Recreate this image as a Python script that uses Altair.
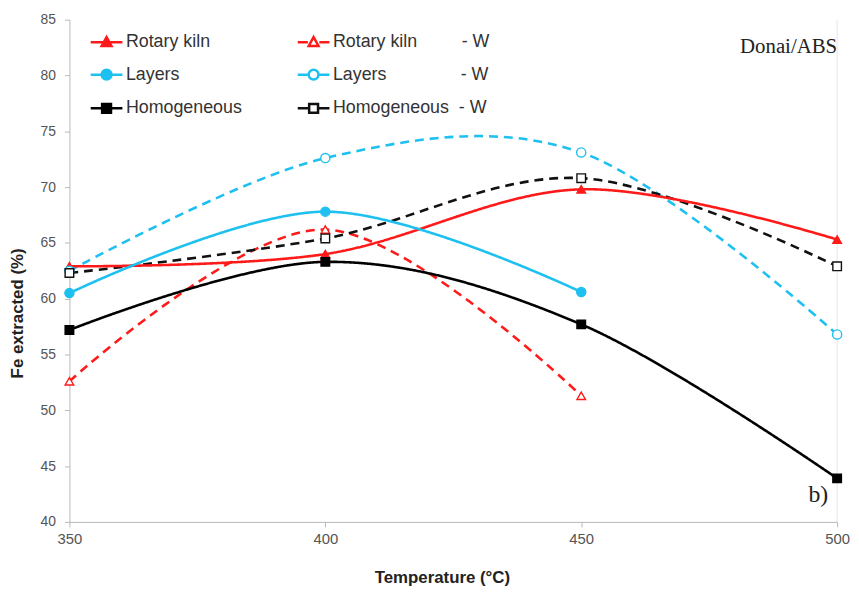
import altair as alt
import pandas as pd

NB = "\u00a0"

temperatures = [350, 400, 450, 500]
series_names = [
    "Rotary kiln",
    "Layers",
    "Homogeneous",
    "Rotary kiln" + NB * 9 + "- W",
    "Layers" + NB * 15 + "- W",
    "Homogeneous" + NB * 2 + "- W",
]
rotary_kiln = [62.9, 64.0, 69.8, 65.3]
layers = [60.5, 67.8, 60.6, None]
homogeneous = [57.2, 63.3, 57.7, 43.9]
rotary_kiln_w = [52.6, 66.2, 51.3, None]
layers_w = [62.5, 72.6, 73.1, 56.8]
homogeneous_w = [62.3, 65.4, 70.8, 62.9]
y_ticks = [40, 45, 50, 55, 60, 65, 70, 75, 80, 85]
annotation_top = ["Donai/ABS"]
annotation_bottom = ["b)"]

all_values = [rotary_kiln, layers, homogeneous, rotary_kiln_w, layers_w, homogeneous_w]
rows = []
for name, vals in zip(series_names, all_values):
    for t, v in zip(temperatures, vals):
        if v is not None:
            rows.append({"temp": t, "value": v, "series": name})
df = pd.DataFrame(rows)

RED = "#FF1A1A"
CYAN = "#1EC0F0"
BLACK = "#000000"

stroke_colors = [RED, CYAN, BLACK, RED, CYAN, "#111111"]
fill_colors = [RED, CYAN, BLACK, "#FFFFFF", "#FFFFFF", "#FFFFFF"]
legend_paths = [
    "M-1,0H1M0,-0.32L0.31,0.24L-0.31,0.24Z",
    "M-1,0H1M0.31,0A0.31,0.31,0,1,1,-0.31,0A0.31,0.31,0,1,1,0.31,0Z",
    "M-1,0H1M-0.28,-0.28H0.28V0.28H-0.28Z",
    "M-1,0H-0.36M0.36,0H1M0,-0.32L0.31,0.24L-0.31,0.24Z",
    "M-1,0H-0.33M0.33,0H1M0.31,0A0.31,0.31,0,1,1,-0.31,0A0.31,0.31,0,1,1,0.31,0Z",
    "M-1,0H-0.3M0.3,0H1M-0.28,-0.28H0.28V0.28H-0.28Z",
]

FONT = "Liberation Sans, Arial, sans-serif"

stroke_scale = alt.Scale(domain=series_names, range=stroke_colors)
fill_scale = alt.Scale(domain=series_names, range=fill_colors)
shape_scale = alt.Scale(domain=series_names, range=legend_paths)

x_enc = alt.X(
    "temp:Q",
    scale=alt.Scale(domain=[350, 500], nice=False, zero=False),
    axis=alt.Axis(
        values=temperatures, title="Temperature (°C)", grid=False, labelFlush=False,
        domainColor="#B8B8B8", tickColor="#B8B8B8", tickSize=5,
        labelFont=FONT, labelFontSize=15, labelColor="#555555", labelPadding=5,
        titleFont=FONT, titleFontSize=17, titleFontWeight="bold", titleColor="#222222",
        titleX=376, titleY=56, titleBaseline="middle",
    ),
)
y_enc = alt.Y(
    "value:Q",
    scale=alt.Scale(domain=[40, 85], nice=False, zero=False),
    axis=alt.Axis(
        values=y_ticks, title="Fe extracted (%)", grid=False, labelFlush=False,
        domainColor="#B8B8B8", tickColor="#B8B8B8", tickSize=5,
        labelFont=FONT, labelFontSize=14, labelColor="#555555", labelPadding=9,
        titleFont=FONT, titleFontSize=17, titleFontWeight="bold", titleColor="#222222",
        titleX=-52, titleY=296, titleAngle=270, titleAlign="center", titleBaseline="middle",
    ),
)

legend = alt.Legend(
    orient="none",
    legendX=20,
    legendY=5,
    columns=2,
    columnPadding=50,
    rowPadding=6,
    symbolSize=1024,
    symbolStrokeWidth=2.5,
    symbolOpacity=1,
    labelFont=FONT,
    labelFontSize=18,
    labelColor="#333333",
    labelOffset=2,
    labelLimit=400,
    title=None,
    padding=0,
)

base = alt.Chart(df)

legend_layer = base.mark_point(filled=True, opacity=0).encode(
    x=x_enc,
    y=y_enc,
    stroke=alt.Stroke("series:N", scale=stroke_scale, legend=legend),
    fill=alt.Fill("series:N", scale=fill_scale, legend=legend),
    shape=alt.Shape("series:N", scale=shape_scale, legend=legend),
)

border = alt.Chart(pd.DataFrame({"temp": [temperatures[-1]]})).mark_rule(
    color="#E6E6E6", strokeWidth=1
).encode(x=alt.X("temp:Q"))


def line_layer(names, dash):
    return base.transform_filter(
        alt.FieldOneOfPredicate(field="series", oneOf=names)
    ).mark_line(interpolate="cardinal", strokeWidth=2.6, strokeDash=dash).encode(
        x=x_enc,
        y=y_enc,
        stroke=alt.Stroke("series:N", scale=stroke_scale, legend=legend),
    )


solid_lines = line_layer(series_names[0:3], [1, 0])
dashed_lines = line_layer(series_names[3:6], [9, 6])


def marker_layer(names, shape, size):
    return base.transform_filter(
        alt.FieldOneOfPredicate(field="series", oneOf=names)
    ).mark_point(shape=shape, filled=True, size=size, strokeWidth=1.4, opacity=1).encode(
        x=x_enc,
        y=y_enc,
        stroke=alt.Stroke("series:N", scale=stroke_scale, legend=legend),
        fill=alt.Fill("series:N", scale=fill_scale, legend=legend),
    )


tri = marker_layer([series_names[0], series_names[3]], "triangle-up", 75)
circ = marker_layer([series_names[1], series_names[4]], "circle", 85)
sq = marker_layer([series_names[2], series_names[5]], "square", 75)

txt_top = alt.Chart(pd.DataFrame({"t": annotation_top})).mark_text(
    font="Liberation Serif", fontSize=21, align="right", baseline="middle", color="#222222"
).encode(text="t:N", x=alt.value(775), y=alt.value(28))

txt_bot = alt.Chart(pd.DataFrame({"t": annotation_bottom})).mark_text(
    font="Liberation Serif", fontSize=24, align="right", baseline="middle", color="#222222"
).encode(text="t:N", x=alt.value(766), y=alt.value(480))

chart = alt.layer(
    legend_layer, border, dashed_lines, solid_lines, tri, circ, sq, txt_top, txt_bot
).properties(
    width=775,
    height=507,
    autosize=alt.AutoSizeParams(type="none"),
    padding={"left": 62, "top": 9, "right": 14, "bottom": 71},
).configure_view(stroke=None)

chart.save("out.html", embed_options={"renderer": "svg", "actions": False})
